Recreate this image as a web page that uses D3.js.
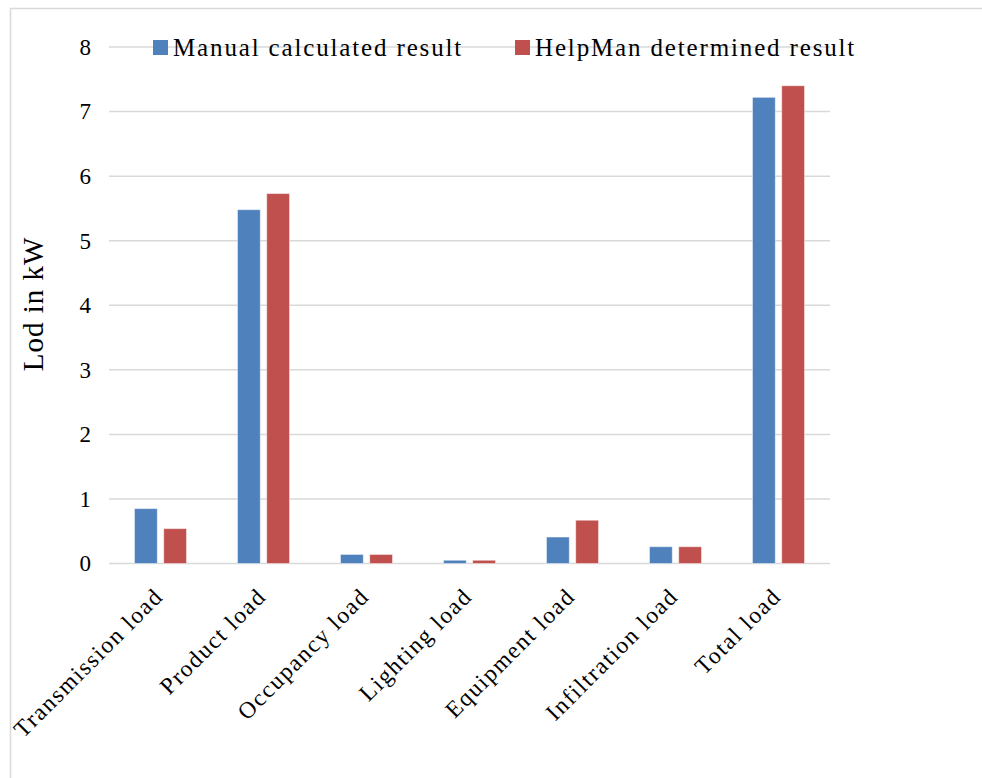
<!DOCTYPE html>
<html>
<head>
<meta charset="utf-8">
<script src="https://cdn.jsdelivr.net/npm/d3@7"></script>
<style>
  html, body { margin: 0; padding: 0; background: #fff; }
  svg { display: block; }
  text { font-family: "Liberation Serif", "Times New Roman", serif; fill: #000; }
</style>
</head>
<body>
<svg id="chart" width="982" height="778"></svg>
<script>
// Cooling load components (kW)
const categories = ["Transmission load", "Product load", "Occupancy load", "Lighting load",
                    "Equipment load", "Infiltration load", "Total load"];
const seriesNames = ["Manual calculated result", "HelpMan determined result"];
const manualValues  = [0.85, 5.48, 0.14, 0.05, 0.41, 0.26, 7.22];
const helpmanValues = [0.54, 5.73, 0.14, 0.05, 0.67, 0.26, 7.40];
const yTicks = [0, 1, 2, 3, 4, 5, 6, 7, 8];
const colors = ["#4f81bd", "#c0504d"];
const yTitle = "Lod in kW";

const svg = d3.select("#chart");
const W = 982, H = 778;

// outer chart border
svg.append("rect")
  .attr("x", 10.5).attr("y", 8.5)
  .attr("width", W + 20).attr("height", H + 20)
  .attr("fill", "none").attr("stroke", "#d9d9d9").attr("stroke-width", 1.5);

const plot = { left: 109, right: 830, top: 47, bottom: 563.5 };

const x0 = d3.scaleBand().domain(categories).range([plot.left, plot.right]).padding(0);
const groupWidth = x0.bandwidth() * 0.505;
const x1 = d3.scaleBand().domain(seriesNames).range([0, groupWidth]).paddingInner(0.22);
const y = d3.scaleLinear().domain([0, 8]).range([plot.bottom, plot.top]);

// horizontal gridlines
svg.append("g").selectAll("line").data(yTicks).join("line")
  .attr("x1", plot.left).attr("x2", plot.right)
  .attr("y1", d => y(d)).attr("y2", d => y(d))
  .attr("stroke", "#d9d9d9").attr("stroke-width", 1.5);

// y axis labels
const yAxis = svg.append("g")
  .attr("transform", `translate(${plot.left - 18},0)`)
  .call(d3.axisLeft(y).tickValues(yTicks).tickSize(0).tickPadding(0).tickFormat(d3.format("d")));
yAxis.select(".domain").remove();
yAxis.selectAll("text")
  .style("font-family", '"Liberation Serif", "Times New Roman", serif')
  .style("font-size", "23px").attr("fill", "#000");

// y axis title
svg.append("text")
  .attr("transform", "translate(43,304) rotate(-90)")
  .attr("text-anchor", "middle")
  .style("font-size", "29px").style("letter-spacing", "1px")
  .text(yTitle);

// bars
const rows = categories.map((c, i) => ({ cat: c, vals: [manualValues[i], helpmanValues[i]] }));
const groups = svg.append("g").selectAll("g").data(rows).join("g")
  .attr("transform", d => `translate(${x0(d.cat) + (x0.bandwidth() - groupWidth) / 2},0)`);
groups.selectAll("rect")
  .data(d => d.vals.map((v, j) => ({ key: seriesNames[j], v, j })))
  .join("rect")
  .attr("x", d => x1(d.key))
  .attr("width", x1.bandwidth())
  .attr("y", d => y(d.v))
  .attr("height", d => y(0) - y(d.v))
  .attr("fill", d => colors[d.j])
  .attr("stroke", "#ffffff").attr("stroke-opacity", 0.45).attr("stroke-width", 1);

// category labels, rotated
svg.append("g").selectAll("text").data(categories).join("text")
  .attr("transform", d => `translate(${x0(d) + x0.bandwidth() / 2 - 2},592) rotate(-45)`)
  .attr("text-anchor", "end")
  .attr("dy", "0.35em")
  .style("font-size", "23.5px").style("letter-spacing", "1.6px")
  .text(d => d);

// legend
const legendItems = [
  { name: seriesNames[0], color: colors[0], x: 153 },
  { name: seriesNames[1], color: colors[1], x: 515 }
];
const lg = svg.append("g").selectAll("g").data(legendItems).join("g")
  .attr("transform", d => `translate(${d.x},40)`);
lg.append("rect").attr("width", 15).attr("height", 15).attr("fill", d => d.color);
lg.append("text")
  .attr("x", 20).attr("y", 16)
  .style("font-size", "25px").style("letter-spacing", "1.85px")
  .text(d => d.name);
</script>
</body>
</html>
